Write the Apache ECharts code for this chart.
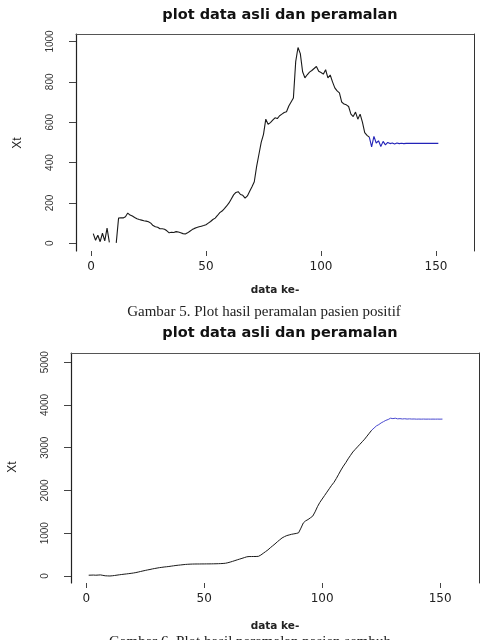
<!DOCTYPE html>
<html>
<head>
<meta charset="utf-8">
<script src="https://cdn.jsdelivr.net/npm/echarts@6/dist/echarts.min.js"></script>
<style>
  html, body { margin: 0; padding: 0; background: #fff; }
  #chart { width: 484px; height: 640px; }
</style>
</head>
<body>
<div id="chart"></div>
<script>
"use strict";
// data ke- 1..121 (pasien positif), null = kosong
const positiveActual = [
    48, 15, 40, 8, 50, 12, 75, 5, null, null,
    2, 125, 127, 126, 132, 150, 140, 135, 128, 122,
    118, 115, 112, 110, 107, 100, 88, 82, 80, 72,
    72, 70, 62, 52, 55, 54, 58, 56, 52, 48,
    46, 52, 60, 68, 74, 78, 82, 85, 88, 92,
    100, 108, 118, 125, 138, 152, 160, 172, 185, 200,
    220, 240, 252, 256, 242, 238, 224, 235, 258, 280,
    305, 380, 440, 500, 540, 615, 590, 598, 610, 622,
    618, 632, 640, 648, 652, 680, 700, 720, 900, 970,
    940, 850, 820, 835, 848, 856, 866, 876, 852, 846,
    838, 860, 820, 834, 800, 770, 755, 745, 700, 690,
    686, 678, 640, 628, 650, 615, 640, 600, 548, 535,
    526
];
// peramalan, data ke- 121..151
const positiveForecast = [
    526, 478, 530, 497, 508, 480, 505, 488, 500, 494,
    497, 492, 497, 494, 496, 494, 495, 495, 495, 495,
    495, 495, 495, 495, 495, 495, 495, 495, 495, 495,
    495
];
// data ke- 1..121 (pasien sembuh)
const recoveredActual = [
    18, 20, 22, 18, 22, 25, 15, 5, 2, 0,
    5, 12, 20, 28, 35, 42, 48, 55, 62, 70,
    80, 92, 105, 118, 130, 142, 152, 165, 175, 185,
    195, 202, 210, 216, 222, 230, 238, 246, 252, 258,
    264, 270, 274, 277, 279, 280, 281, 281, 282, 282,
    283, 283, 284, 285, 286, 288, 290, 293, 298, 310,
    325, 342, 360, 378, 395, 412, 430, 448, 455, 455,
    456, 456, 460, 490, 530, 570, 610, 660, 705, 750,
    800, 845, 890, 920, 945, 960, 975, 985, 995, 1010,
    1120, 1240, 1290, 1320, 1360, 1400, 1500, 1620, 1720, 1800,
    1880, 1960, 2040, 2120, 2190, 2280, 2380, 2480, 2570, 2650,
    2740, 2820, 2900, 2960, 3020, 3080, 3140, 3200, 3270, 3340,
    3410
];
// peramalan, data ke- 121..151
const recoveredForecast = [
    3410, 3460, 3510, 3540, 3580, 3610, 3640, 3660, 3690, 3680,
    3690, 3675, 3680, 3672, 3678, 3670, 3675, 3670, 3672, 3668,
    3670, 3668, 3670, 3668, 3669, 3668, 3669, 3668, 3669, 3668,
    3669
];
const xTicks = [0, 50, 100, 150];
const positiveTicks = [0, 200, 400, 600, 800, 1000];
const recoveredTicks = [0, 1000, 2000, 3000, 4000, 5000];
const plotTitle = 'plot data asli dan peramalan';
const xName = 'data ke-';
const yName = 'Xt';
const caption5 = 'Gambar 5. Plot hasil peramalan pasien positif';
const caption6 = 'Gambar 6. Plot hasil peramalan pasien sembuh';

const toPairs = (values, start) => values.map((v, i) => [start + i, v]);

const SANS = 'Liberation Sans, Arial, sans-serif';
const WIDE = 'DejaVu Sans, Verdana, sans-serif';
const SERIF = 'Liberation Serif, Times New Roman, serif';

const frameX = (gridIndex) => ({
    type: 'value', gridIndex, position: 'top', min: -6.5, max: 166.5,
    axisLine: { show: true, onZero: false, lineStyle: { color: '#555', width: 1 } },
    axisTick: { show: false }, axisLabel: { show: false }, splitLine: { show: false }
});
const frameY = (gridIndex, min, max) => ({
    type: 'value', gridIndex, position: 'right', min, max,
    axisLine: { show: true, onZero: false, lineStyle: { color: '#333', width: 1 } },
    axisTick: { show: false }, axisLabel: { show: false }, splitLine: { show: false }
});
const mainX = (gridIndex) => ({
    type: 'value', gridIndex, min: -6.5, max: 166.5,
    axisLine: { show: false, onZero: false },
    axisTick: { show: true, length: 5, customValues: xTicks, lineStyle: { color: '#444' } },
    axisLabel: { customValues: xTicks, margin: 10, fontFamily: WIDE, fontSize: 12, color: '#222' },
    splitLine: { show: false }
});
const mainY = (gridIndex, min, max, ticks) => ({
    type: 'value', gridIndex, min, max,
    axisLine: { show: true, onZero: false, lineStyle: { color: '#222', width: 1.2 } },
    axisTick: { show: true, length: 7, customValues: ticks, lineStyle: { color: '#444' } },
    axisLabel: {
        customValues: ticks, rotate: 90, margin: 21,
        formatter: (v) => String(v),
        fontFamily: SANS, fontSize: 10, color: '#333'
    },
    splitLine: { show: false }
});
const lineSeries = (data, xi, yi, color, width) => ({
    type: 'line', data, xAxisIndex: xi, yAxisIndex: yi,
    showSymbol: false, connectNulls: false, silent: true,
    lineStyle: { color, width }
});
const label = (text, x, y, style, rotation) => ({
    type: 'text', x, y, rotation: rotation || 0,
    style: Object.assign({ text, align: 'center', verticalAlign: 'middle', fill: '#222' }, style)
});

const chart = echarts.init(document.getElementById('chart'));
chart.setOption({
    animation: false,
    backgroundColor: '#fff',
    title: [
        { text: plotTitle, left: 275, top: 3, textAlign: 'center',
          textStyle: { fontFamily: WIDE, fontSize: 14.5, fontWeight: 'bold', color: '#111' } },
        { text: caption5, left: 259, top: 300, textAlign: 'center',
          textStyle: { fontFamily: SERIF, fontSize: 15, fontWeight: 'normal', color: '#222' } },
        { text: plotTitle, left: 275, top: 321, textAlign: 'center',
          textStyle: { fontFamily: WIDE, fontSize: 14.5, fontWeight: 'bold', color: '#111' } },
        { text: caption6, left: 245, top: 630, textAlign: 'center',
          textStyle: { fontFamily: SERIF, fontSize: 15, fontWeight: 'normal', color: '#222' } }
    ],
    graphic: [
        label(xName, 275, 290, { font: 'bold 10.5px ' + WIDE }),
        label(xName, 275, 626, { font: 'bold 10.5px ' + WIDE }),
        label(yName, 18, 143, { font: '12px ' + SANS }, Math.PI / 2),
        label(yName, 13, 467, { font: '12px ' + SANS }, Math.PI / 2)
    ],
    grid: [
        { left: 76, top: 34, width: 398, height: 217 },
        { left: 71, top: 353, width: 408, height: 230 }
    ],
    xAxis: [mainX(0), frameX(0), mainX(1), frameX(1)],
    yAxis: [
        mainY(0, -38, 1037, positiveTicks), frameY(0, -38, 1037),
        mainY(1, -164, 5215, recoveredTicks), frameY(1, -164, 5215)
    ],
    series: [
        lineSeries(toPairs(positiveActual, 1), 0, 0, '#1a1a1a', 1.1),
        lineSeries(toPairs(positiveForecast, 121), 0, 0, '#2323b8', 1.1),
        lineSeries(toPairs(recoveredActual, 1), 2, 2, '#1a1a1a', 1),
        lineSeries(toPairs(recoveredForecast, 121), 2, 2, '#4848d0', 1)
    ]
});
</script>
</body>
</html>
